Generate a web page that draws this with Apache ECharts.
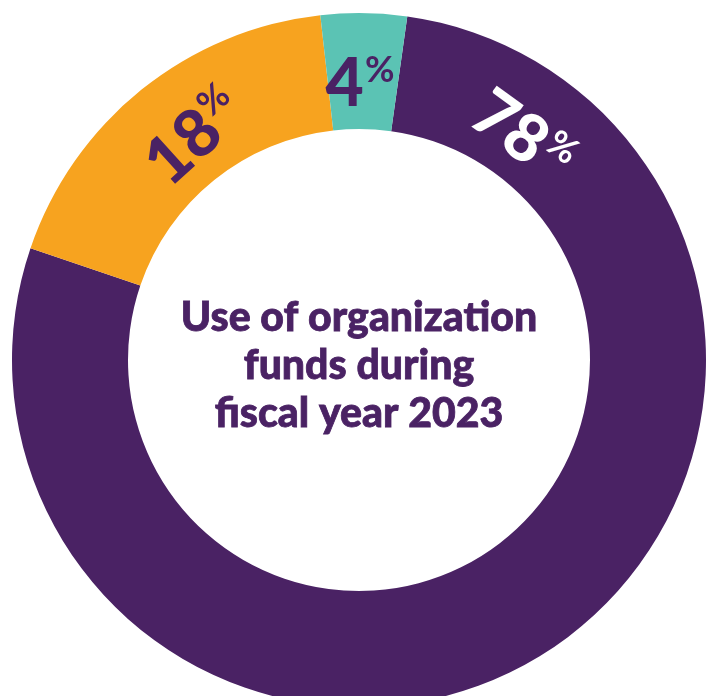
<!DOCTYPE html>
<html>
<head>
<meta charset="utf-8">
<script src="https://cdn.jsdelivr.net/npm/echarts@6/dist/echarts.min.js"></script>
<style>
html,body{margin:0;padding:0;background:#fff;}
#chart{width:706px;height:696px;}
</style>
</head>
<body>
<div id="chart"></div>
<script>
const categories = ['Programs', 'Fundraising', 'Management'];
const values = [78, 18, 4];
const colors = ['#4A2264', '#F7A31F', '#5BC3B4'];
const labelColors = ['#ffffff', '#4A2264', '#4A2264'];
const centerLines = ['Use of organization', 'funds during', 'fiscal year 2023'];

const labelPlace = [
  { x: 522, y: 137, rotate: -36 },
  { x: 195, y: 137, rotate: 42 },
  { x: 360, y: 85, rotate: 0 }
];

const chart = echarts.init(document.getElementById('chart'), null, { renderer: 'canvas' });
chart.setOption({
  animation: false,
  series: [{
    type: 'pie',
    center: [359, 360],
    radius: [231, 347],
    startAngle: 82,
    clockwise: true,
    silent: true,
    data: categories.map((c, i) => ({
      name: c,
      value: values[i],
      itemStyle: { color: colors[i] },
      label: {
        color: labelColors[i],
        rich: {
          n: { fontFamily: 'Lato', fontWeight: 900, fontSize: 66, color: labelColors[i], verticalAlign: 'bottom' },
          p: { fontFamily: 'Lato', fontWeight: 700, fontSize: 36, color: labelColors[i], verticalAlign: 'top', padding: [0, 0, 0, 1] }
        }
      }
    })),
    itemStyle: { borderWidth: 0 },
    label: {
      show: true,
      position: 'inside',
      formatter: p => '{n|' + p.value + '}{p|%}'
    },
    labelLine: { show: false },
    labelLayout: function (params) {
      const pl = labelPlace[params.dataIndex];
      return { x: pl.x, y: pl.y, rotate: pl.rotate, align: 'center', verticalAlign: 'middle' };
    }
  }],
  graphic: [{
    type: 'text',
    x: 359,
    y: 366,
    style: {
      text: centerLines.join('\n'),
      fontFamily: 'Lato',
      fontWeight: 900,
      fontSize: 41,
      lineHeight: 48,
      fill: '#4A2264',
      stroke: '#4A2264',
      lineWidth: 0.8,
      align: 'center',
      verticalAlign: 'middle'
    }
  }]
});
</script>
</body>
</html>
